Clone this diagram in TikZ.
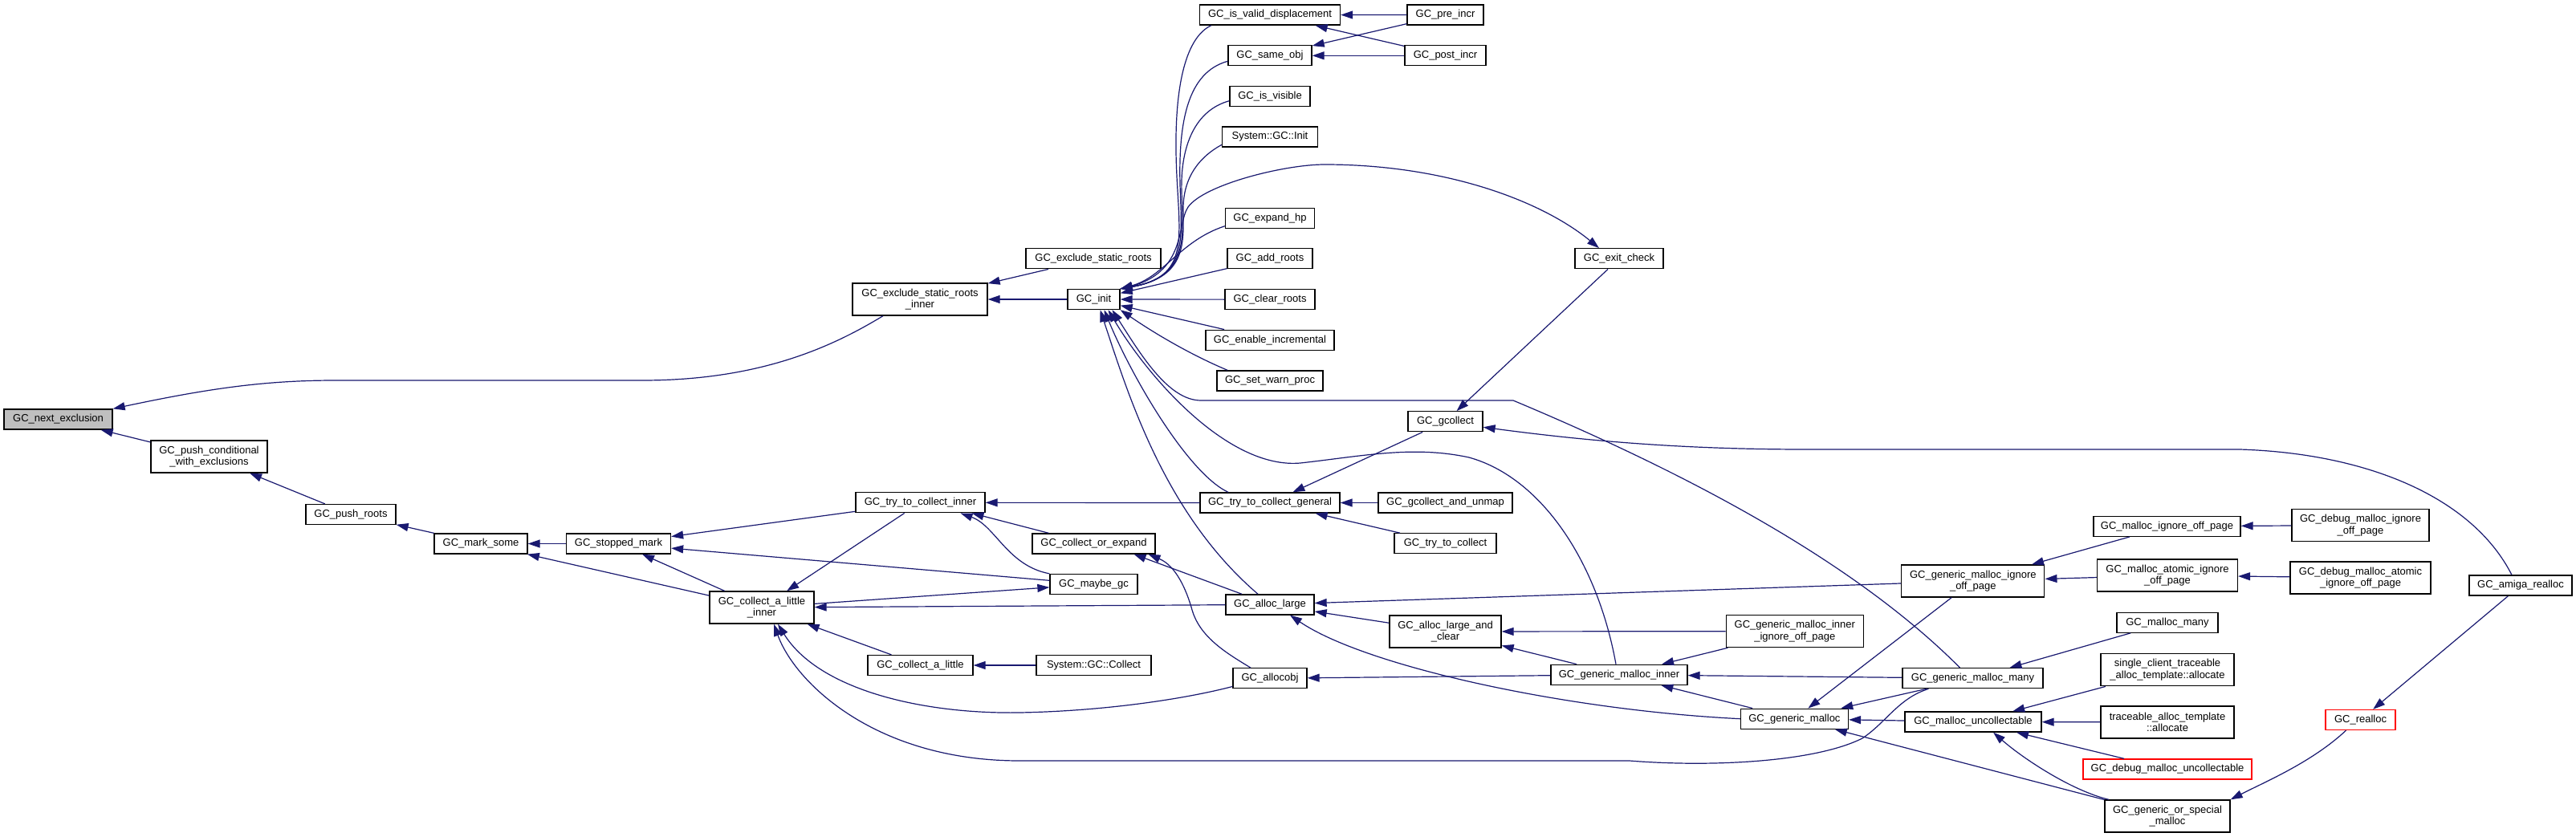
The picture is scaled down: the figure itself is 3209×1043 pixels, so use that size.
\documentclass[tikz,border=0pt]{standalone}
\usepackage{fontspec}
\setmainfont{Liberation Sans}
\usetikzlibrary{arrows.meta}
\definecolor{callblue}{RGB}{25,25,112}
\definecolor{rootgrey}{RGB}{191,191,191}

\begin{document}
\begin{tikzpicture}[x=1pt,y=-1pt,
			fn/.style={draw=black, fill=white, line width=1.3pt, inner sep=0pt, align=center,
				font=\fontsize{13}{14.5}\selectfont, minimum height=25pt},
			fnroot/.style={fn, fill=rootgrey},
			fnred/.style={fn, draw=red},
			tall/.style={minimum height=40pt},
			callarrow/.style={draw=callblue, line width=1.2pt, {Triangle[length=15pt,width=10pt]}-},
			]
			\fill[white](0,0)rectangle(3209,1043);
			\useasboundingbox(0,0)rectangle(3209,1043);
			
			%% ── colonna sinistra ───────────────────────────────
			\node[fnroot, minimum width=135pt](nx)at(72.5,522.5){GC\_next\_exclusion};
			\node[fn, tall, minimum width=145pt](pce)at(260.5,569){GC\_push\_conditional\\\_with\_exclusions};
			\node[fn, minimum width=112pt](prt)at(437,641){GC\_push\_roots};
			\node[fn, minimum width=116pt](mks)at(599,677.5){GC\_mark\_some};
			\node[fn, minimum width=130pt](stm)at(770.5,677.5){GC\_stopped\_mark};
			\node[fn, tall, minimum width=130pt](cali)at(949,757){GC\_collect\_a\_little\\\_inner};
			\node[fn, tall, minimum width=168pt](esri)at(1146,373){GC\_exclude\_static\_roots\\\_inner};
			\node[fn, minimum width=161pt](tci)at(1146.5,626.3){GC\_try\_to\_collect\_inner};
			\node[fn, minimum width=131pt](cal)at(1146.5,829){GC\_collect\_a\_little};
			\node[fn, minimum width=168pt](esr)at(1362,322.3){GC\_exclude\_static\_roots};
			\node[fn, minimum width=65pt](init)at(1362.5,373){GC\_init};
			\node[fn, minimum width=153pt](coe)at(1362.5,677.5){GC\_collect\_or\_expand};
			\node[fn, minimum width=109pt](mgc)at(1362.5,728){GC\_maybe\_gc};
			\node[fn, minimum width=143pt](sgcc)at(1362.5,829){System::GC::Collect};
			
			%% ── colonna centrale ───────────────────────────────
			\node[fn, minimum width=175pt](ivd)at(1582,18.6){GC\_is\_valid\_displacement};
			\node[fn, minimum width=104pt](sob)at(1582,69.3){GC\_same\_obj};
			\node[fn, minimum width=100pt](ivis)at(1582,119.7){GC\_is\_visible};
			\node[fn, minimum width=119pt](sgi)at(1582,170.4){System::GC::Init};
			\node[fn, minimum width=111pt](ehp)at(1582,271.7){GC\_expand\_hp};
			\node[fn, minimum width=106pt](adr)at(1582,322.3){GC\_add\_roots};
			\node[fn, minimum width=112pt](clr)at(1582,373.2){GC\_clear\_roots};
			\node[fn, minimum width=160pt](einc)at(1582,423.7){GC\_enable\_incremental};
			\node[fn, minimum width=132pt](swp)at(1582,474.4){GC\_set\_warn\_proc};
			\node[fn, minimum width=174pt](ttcg)at(1582,626.5){GC\_try\_to\_collect\_general};
			\node[fn, minimum width=110pt](alarge)at(1582,753.4){GC\_alloc\_large};
			\node[fn, minimum width=92pt](aobj)at(1582,845.3){GC\_allocobj};
			\node[fn, minimum width=95pt](pre)at(1800.5,18.5){GC\_pre\_incr};
			\node[fn, minimum width=101pt](post)at(1800.5,69.3){GC\_post\_incr};
			\node[fn, minimum width=93pt](gcol)at(1800.5,525.3){GC\_gcollect};
			\node[fn, minimum width=167pt](gcu)at(1800.5,626.5){GC\_gcollect\_and\_unmap};
			\node[fn, minimum width=127pt](ttc)at(1800.5,677.3){GC\_try\_to\_collect};
			\node[fn, tall, minimum width=139pt](alc)at(1800.5,787){GC\_alloc\_large\_and\\\_clear};
			\node[fn, minimum width=110pt](exc)at(2017,322.3){GC\_exit\_check};
			\node[fn, minimum width=170pt](gmi)at(2017,840.8){GC\_generic\_malloc\_inner};
			
			%% ── colonna destra ─────────────────────────────────
			\node[fn, tall, minimum width=171pt](gmiiop)at(2235.8,786.6){GC\_generic\_malloc\_inner\\\_ignore\_off\_page};
			\node[fn, minimum width=134pt](gm)at(2235.4,895.7){GC\_generic\_malloc};
			\node[fn, tall, minimum width=178pt](gmiop)at(2457.8,724){GC\_generic\_malloc\_ignore\\\_off\_page};
			\node[fn, minimum width=175pt](gmm)at(2457.5,845.2){GC\_generic\_malloc\_many};
			\node[fn, minimum width=170pt](mu)at(2458,899.5){GC\_malloc\_uncollectable};
			\node[fn, minimum width=183pt](miop)at(2699.5,655.8){GC\_malloc\_ignore\_off\_page};
			\node[fn, tall, minimum width=175pt](maiop)at(2700,717){GC\_malloc\_atomic\_ignore\\\_off\_page};
			\node[fn, minimum width=126pt](mm)at(2700,775.7){GC\_malloc\_many};
			\node[fn, tall, minimum width=166pt](sct)at(2700,834.8){single\_client\_traceable\\\_alloc\_template::allocate};
			\node[fn, tall, minimum width=166pt](tat)at(2700,900){traceable\_alloc\_template\\::allocate};
			\node[fnred, minimum width=210pt](dmu)at(2700,958.5){GC\_debug\_malloc\_uncollectable};
			\node[fn, tall, minimum width=156pt](gosm)at(2700,1017){GC\_generic\_or\_special\\\_malloc};
			\node[fn, tall, minimum width=171pt](dmiop)at(2940.5,654.6){GC\_debug\_malloc\_ignore\\\_off\_page};
			\node[fn, tall, minimum width=175pt](dmaiop)at(2940.5,719.9){GC\_debug\_malloc\_atomic\\\_ignore\_off\_page};
			\node[fnred, minimum width=87pt](rea)at(2940.5,897){GC\_realloc};
			\node[fn, minimum width=128pt](amr)at(3140,729.6){GC\_amiga\_realloc};
			
			%% ── chiamate dirette ───────────────────────────────
			\foreach \ca/\cb in {nx/pce, pce/prt, prt/mks, mks/stm, mks/cali, stm/tci, stm/mgc,
				stm/cali, cali/tci, mgc/cali, tci/ttcg, cali/alarge, cali/cal, cal/sgcc,
				esri/init, esri/esr, init/adr, init/clr, init/einc, gcol/exc, ttcg/gcol,
				ttcg/gcu, ttcg/ttc, ivd/pre, ivd/post, sob/pre, sob/post, alarge/gmiop,
				alarge/alc, alc/gmiiop, alc/gmi, aobj/gmi, gmi/gmiiop, gmi/gmm, gmi/gm,
				gm/gmiop, gm/gmm, gm/mu, gm/gosm, mu/sct, mu/tat, mu/dmu, gmm/mm,
				gmiop/miop, gmiop/maiop, miop/dmiop, maiop/dmaiop, rea/amr}
			\draw[callarrow](\ca)--(\cb);
			
			%% ── chiamate curve ─────────────────────────────────
			\draw[callarrow](nx.north east)..controls(260,484)and(330,474)..(418,474)--(800,474)
				..controls(950,474)and(1040,430)..([xshift=-46]esri.south);
			\draw[callarrow]([xshift=64]tci.south)--([xshift=-56]coe.north);
			\draw[callarrow]([xshift=50]tci.south)..controls(1240,655)and(1255,705)..(mgc.north west);
			\draw[callarrow]([xshift=20]cali.south)..controls(1020,860)and(1150,890)..(1270,888)
				..controls(1380,886)and(1480,870)..([yshift=3]aobj.south west);
			\draw[callarrow]([xshift=15]cali.south)..controls(990,850)and(1090,948)..(1270,948)--(2030,948)
				..controls(2130,956)and(2260,950)..(2320,920)..controls(2350,900)and(2365,870)..([xshift=-55]gmm.south);
			\draw[callarrow]([xshift=50]coe.south)--([xshift=-35]alarge.north);
			\draw[callarrow]([xshift=68]coe.south)..controls(1465,705)and(1478,735)..(1485,760)
				..controls(1495,795)and(1530,815)..([xshift=-24]aobj.north);
			
			%% GC_init verso l'alto
			\draw[callarrow](init.north east)..controls(1480,345)and(1470,300)..(1466,220)
				..controls(1460,100)and(1480,45)..([xshift=15]ivd.south west);
			\draw[callarrow](init.north east)..controls(1480,345)and(1472,300)..(1470,230)
				..controls(1468,150)and(1480,90)..([yshift=-7]sob.west);
			\draw[callarrow](init.north east)..controls(1480,345)and(1474,300)..(1472,240)
				..controls(1470,180)and(1490,137)..([yshift=-6]ivis.west);
			\draw[callarrow](init.north east)..controls(1480,345)and(1474,300)..(1474,260)
				..controls(1474,220)and(1495,195)..([yshift=-10]sgi.west);
			\draw[callarrow](init.north east)..controls(1450,345)and(1470,300)..([yshift=-10]ehp.west);
			\draw[callarrow](init.south east)..controls(1445,420)and(1490,445)..([xshift=-53]swp.north);
			\draw[callarrow]([xshift=-25]exc.north)..controls(1920,250)and(1800,205)..(1650,205)
				..controls(1600,205)and(1500,230)..(1480,258)..controls(1465,280)and(1480,345)..(init.north east);
			
			%% GC_init verso il basso
			\draw[callarrow]([xshift=8]init.south)..controls(1405,490)and(1450,640)..([xshift=-15]alarge.north);
			\draw[callarrow]([xshift=13]init.south)..controls(1410,470)and(1480,590)..([xshift=-52]ttcg.north);
			\draw[callarrow]([xshift=18]init.south)..controls(1430,470)and(1530,585)..(1620,577)
				..controls(1700,568)and(1760,555)..(1830,570)..controls(1920,595)and(1990,700)..([xshift=-4]gmi.north);
			\draw[callarrow]([xshift=23]init.south)..controls(1420,440)and(1455,499)..(1496,499)--(1885,499)
				..controls(2150,610)and(2330,720)..([xshift=-16]gmm.north);
			
			%% lato destro
			\draw[callarrow]([xshift=25]alarge.south)..controls(1700,830)and(1950,885)..(gm.west);
			\draw[callarrow]([xshift=25]mu.south)..controls(2520,945)and(2580,985)..([xshift=-73]gosm.north);
			\draw[callarrow]([yshift=-7]gcol.east)..controls(1980,550)and(2100,560)..(2250,560)--(2790,560)
				..controls(2950,565)and(3080,620)..([xshift=-11]amr.north);
			\draw[callarrow](gosm.north east)..controls(2820,975)and(2880,950)..([xshift=-18]rea.south);
			
\end{tikzpicture}
\end{document}
